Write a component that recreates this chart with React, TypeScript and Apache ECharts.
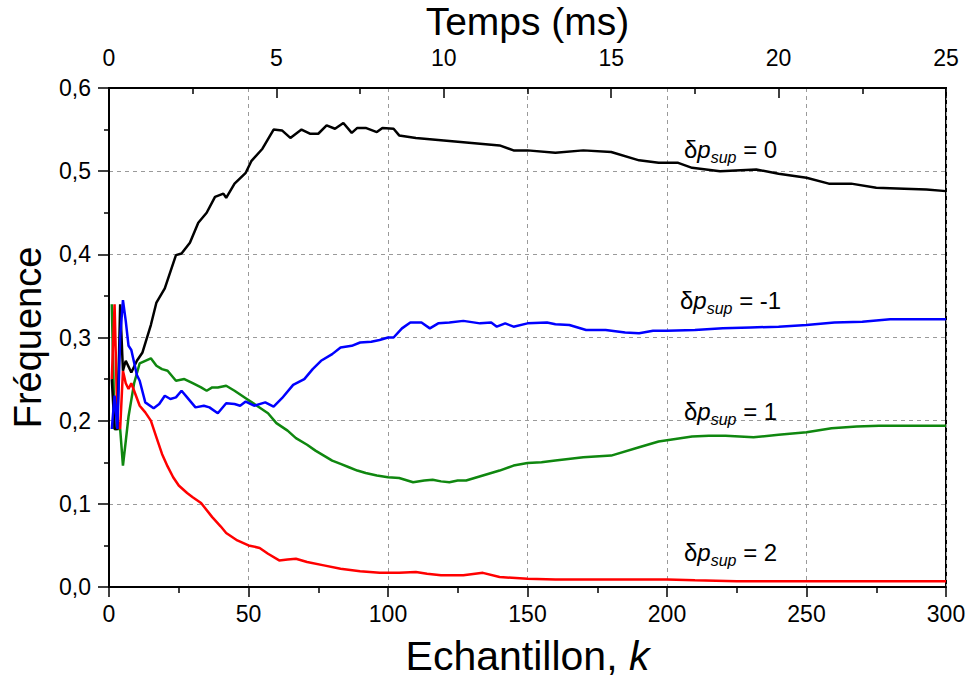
import React, { useEffect, useRef } from "react";
import * as echarts from "echarts";

// k (sample index) and frequency values
const kBlack = [1, 2, 3, 4, 5, 6, 8, 10, 12, 15, 17, 20, 24, 26, 29, 32, 35, 38, 41, 42, 45, 49, 51, 55, 59, 62, 65, 69, 72, 75, 78, 81, 84, 87, 89, 92, 96, 98, 102, 104, 110, 120, 130, 140, 145, 150, 160, 170, 180, 190, 197, 204, 209, 219, 232, 240, 250, 258, 266, 275, 285, 293, 300];
const vBlack = [0.25, 0.19, 0.19, 0.34, 0.26, 0.272, 0.258, 0.272, 0.282, 0.315, 0.342, 0.359, 0.399, 0.401, 0.414, 0.438, 0.45, 0.469, 0.473, 0.468, 0.485, 0.498, 0.512, 0.527, 0.55, 0.549, 0.54, 0.55, 0.545, 0.545, 0.555, 0.551, 0.558, 0.546, 0.552, 0.552, 0.547, 0.552, 0.551, 0.543, 0.54, 0.537, 0.534, 0.531, 0.525, 0.525, 0.522, 0.525, 0.523, 0.513, 0.51, 0.51, 0.504, 0.5, 0.502, 0.497, 0.492, 0.485, 0.485, 0.48, 0.479, 0.478, 0.476];

const kBlue = [1, 2, 3, 4, 5, 6, 7, 8, 9, 10, 11, 13, 16, 18, 20, 22, 24, 26, 28, 31, 34, 36, 39, 42, 45, 47, 49, 52, 56, 59, 62, 66, 70, 73, 76, 80, 83, 87, 90, 94, 97, 100, 102, 105, 108, 110, 112, 115, 118, 122, 127, 133, 137, 139, 142, 145, 150, 157, 160, 165, 171, 178, 185, 190, 195, 200, 210, 220, 230, 240, 250, 260, 270, 280, 290, 300];
const vBlue = [0.19, 0.23, 0.19, 0.3, 0.345, 0.32, 0.29, 0.285, 0.27, 0.255, 0.248, 0.222, 0.215, 0.22, 0.23, 0.226, 0.228, 0.236, 0.228, 0.216, 0.218, 0.216, 0.209, 0.221, 0.22, 0.218, 0.223, 0.218, 0.222, 0.217, 0.227, 0.243, 0.25, 0.262, 0.272, 0.28, 0.288, 0.29, 0.294, 0.295, 0.297, 0.3, 0.3, 0.311, 0.318, 0.318, 0.318, 0.311, 0.317, 0.318, 0.32, 0.317, 0.318, 0.313, 0.317, 0.313, 0.317, 0.318, 0.316, 0.315, 0.309, 0.309, 0.306, 0.305, 0.308, 0.308, 0.309, 0.311, 0.312, 0.313, 0.315, 0.318, 0.319, 0.322, 0.322, 0.322];

const kGreen = [1, 2, 3, 4, 5, 6, 7, 8, 9, 11, 13, 15, 17, 19, 21, 24, 27, 30, 33, 35, 37, 39, 42, 45, 49, 53, 57, 60, 64, 67, 71, 74, 77, 80, 83, 86, 89, 92, 96, 100, 104, 109, 113, 116, 119, 122, 125, 128, 131, 134, 137, 140, 145, 150, 155, 160, 170, 180, 190, 197, 203, 209, 215, 221, 231, 240, 250, 259, 268, 276, 285, 293, 300];
const vGreen = [0.34, 0.19, 0.19, 0.19, 0.146, 0.175, 0.205, 0.225, 0.245, 0.269, 0.272, 0.275, 0.266, 0.262, 0.26, 0.248, 0.25, 0.245, 0.24, 0.236, 0.24, 0.24, 0.242, 0.236, 0.227, 0.218, 0.209, 0.197, 0.188, 0.179, 0.171, 0.164, 0.158, 0.152, 0.148, 0.144, 0.14, 0.137, 0.134, 0.132, 0.131, 0.126, 0.128, 0.129, 0.127, 0.126, 0.128, 0.128, 0.131, 0.134, 0.137, 0.14, 0.146, 0.149, 0.15, 0.152, 0.156, 0.158, 0.168, 0.175, 0.178, 0.181, 0.182, 0.182, 0.18, 0.183, 0.186, 0.191, 0.193, 0.194, 0.194, 0.194, 0.194];

const kRed = [1, 2, 3, 4, 5, 6, 7, 8, 9, 11, 13, 15, 17, 19, 21, 23, 25, 28, 30, 33, 37, 40, 42, 46, 50, 54, 57, 61, 64, 67, 71, 77, 83, 90, 97, 104, 110, 114, 119, 127, 134, 140, 150, 160, 175, 190, 200, 210, 225, 250, 275, 300];
const vRed = [0.25, 0.34, 0.2, 0.19, 0.26, 0.245, 0.238, 0.245, 0.236, 0.218, 0.21, 0.2, 0.18, 0.16, 0.145, 0.132, 0.122, 0.113, 0.108, 0.101, 0.084, 0.073, 0.065, 0.056, 0.05, 0.047, 0.04, 0.032, 0.033, 0.034, 0.03, 0.026, 0.022, 0.019, 0.017, 0.017, 0.018, 0.016, 0.014, 0.014, 0.017, 0.012, 0.01, 0.009, 0.009, 0.009, 0.009, 0.008, 0.007, 0.007, 0.007, 0.007];

const xTicks = { min: 0, max: 300, interval: 50 };
const timeTicks = { min: 0, max: 25, interval: 5 };
const yTicks = { min: 0, max: 0.6, interval: 0.1 };

const labels = [
  { value: "0", x: 684, y: 133 },
  { value: "-1", x: 680, y: 284 },
  { value: "1", x: 684, y: 395 },
  { value: "2", x: 684, y: 536 },
];

const FONT = "'Liberation Sans', Arial, Helvetica, sans-serif";

const zip = (k: number[], v: number[]) => k.map((x, i) => [x, v[i]]);

export default function App() {
  const ref = useRef<HTMLDivElement>(null);
  useEffect(() => {
    const chart = echarts.init(ref.current!, null, { renderer: "svg" });
    const lineSeries = (name: string, data: number[][], color: string) => ({
      type: "line",
      name,
      data,
      xAxisIndex: 0,
      yAxisIndex: 0,
      showSymbol: false,
      symbol: "none",
      lineStyle: { color, width: 2.5 },
      itemStyle: { color },
    });
    const rich = {
      d: { fontFamily: FONT, fontSize: 24, lineHeight: 32, color: "#000" },
      p: { fontFamily: FONT, fontSize: 24, lineHeight: 32, fontStyle: "italic", color: "#000" },
      s: { fontFamily: FONT, fontSize: 16, lineHeight: 16, fontStyle: "italic", verticalAlign: "bottom", color: "#000" },
    };
    chart.setOption({
      animation: false,
      backgroundColor: "#fff",
      grid: {
        left: 109, right: 24, top: 88, bottom: 91,
        outerBoundsMode: "none",
        containLabel: false,
        show: true, borderColor: "#000", borderWidth: 2, backgroundColor: "transparent",
      },
      xAxis: [
        {
          type: "value",
          position: "bottom",
          ...xTicks,
          axisLine: { show: true, onZero: false, lineStyle: { color: "#000", width: 2 } },
          axisTick: { show: true, inside: false, length: 10, lineStyle: { color: "#000", width: 1.5 } },
          minorTick: { show: true, splitNumber: 2, length: 6, lineStyle: { color: "#000", width: 1.5 } },
          axisLabel: { fontSize: 23, color: "#000", margin: 15, fontFamily: FONT },
          splitLine: { show: true, lineStyle: { color: "#9a9a9a", type: [4, 4], width: 1 } },
          name: "{a|Echantillon, }{b|k}",
          nameLocation: "middle",
          nameGap: 48,
          nameTextStyle: {
            rich: {
              a: { fontFamily: FONT, fontSize: 41, color: "#000" },
              b: { fontFamily: FONT, fontSize: 41, fontStyle: "italic", color: "#000" },
            },
          },
        },
        {
          type: "value",
          position: "top",
          ...timeTicks,
          axisLine: { show: true, onZero: false, lineStyle: { color: "#000", width: 2 } },
          axisTick: { show: true, inside: true, length: 10, lineStyle: { color: "#000", width: 1.5 } },
          minorTick: { show: true, splitNumber: 2, length: 6, lineStyle: { color: "#000", width: 1.5 } },
          axisLabel: { fontSize: 23, color: "#000", margin: 19, fontFamily: FONT },
          splitLine: { show: false },
          name: "Temps (ms)",
          nameLocation: "middle",
          nameGap: 47,
          nameTextStyle: { fontFamily: FONT, fontSize: 39, color: "#000" },
        },
      ],
      yAxis: [
        {
          type: "value",
          ...yTicks,
          axisLine: { show: true, onZero: false, lineStyle: { color: "#000", width: 2 } },
          axisTick: { show: true, inside: false, length: 11, lineStyle: { color: "#000", width: 1.5 } },
          minorTick: { show: true, splitNumber: 2, length: 5, lineStyle: { color: "#000", width: 1.5 } },
          axisLabel: {
            fontSize: 23,
            color: "#000",
            margin: 18,
            fontFamily: FONT,
            formatter: (v: number) => v.toFixed(1).replace(".", ","),
          },
          splitLine: { show: true, lineStyle: { color: "#9a9a9a", type: [4, 4], width: 1 } },
          name: "Fréquence",
          nameLocation: "middle",
          nameRotate: 90,
          nameGap: 62,
          nameTextStyle: { fontFamily: FONT, fontSize: 38, color: "#000" },
        },
      ],
      series: [
        lineSeries("δp_sup = 1", zip(kGreen, vGreen), "#0f870f"),
        lineSeries("δp_sup = 2", zip(kRed, vRed), "#ff0000"),
        lineSeries("δp_sup = 0", zip(kBlack, vBlack), "#000000"),
        lineSeries("δp_sup = -1", zip(kBlue, vBlue), "#0000ff"),
      ],
      graphic: labels.map((l) => ({
        type: "text",
        x: l.x,
        y: l.y,
        z: 100,
        style: {
          text: `{d|δ}{p|p}{s|sup}{d| = ${l.value}}`,
          rich,
          verticalAlign: "top",
          align: "left",
        },
      })),
    });
    return () => chart.dispose();
  }, []);
  return <div ref={ref} style={{ position: "absolute", left: 0, top: 0, width: 970, height: 678 }} />;
}
